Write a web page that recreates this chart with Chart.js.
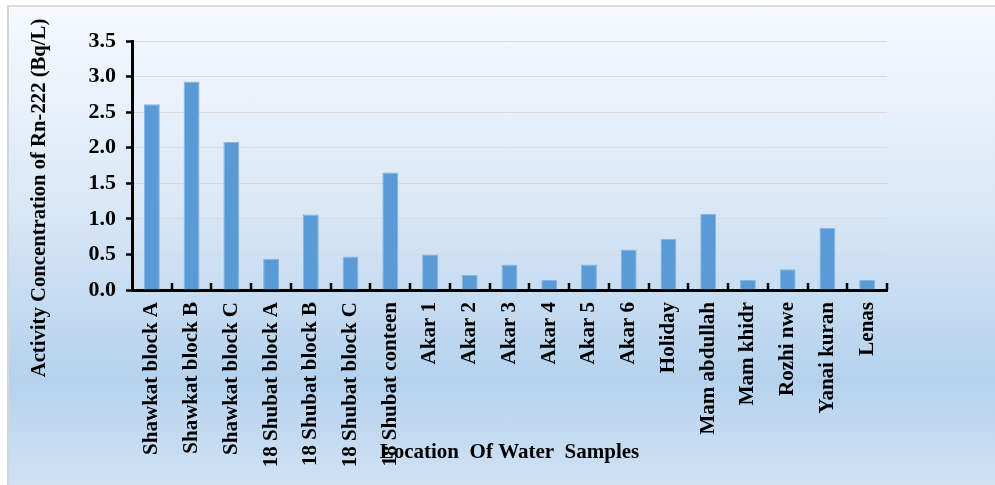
<!DOCTYPE html>
<html>
<head>
<meta charset="utf-8">
<script src="https://cdn.jsdelivr.net/npm/chart.js@4.4.1/dist/chart.umd.min.js"></script>
<style>
  html, body { margin:0; padding:0; background:#fff; }
  body { width:995px; height:485px; position:relative; overflow:hidden; }
  #frame {
    position:absolute; left:7px; top:5px; right:0; bottom:0;
    border-left:2px solid #d6d6d6; border-top:2px solid #dcdcdc;
    background:linear-gradient(to bottom, #f6faff 0%, #dbe8f6 40%, #b5d2ed 78%, #d0e2f4 100%);
  }
  #wrap { position:absolute; left:0; top:0; width:995px; height:485px; }
</style>
</head>
<body>
<div id="frame"></div>
<div id="wrap"><canvas id="rnChart" width="995" height="485"></canvas></div>
<script>
const locations = ['Shawkat block A','Shawkat block B','Shawkat block C','18 Shubat block A','18 Shubat block B',
  '18 Shubat block C','18 Shubat conteen','Akar 1','Akar 2','Akar 3','Akar 4','Akar 5','Akar 6','Holiday',
  'Mam abdullah','Mam khidr','Rozhi nwe','Yanai kuran','Lenas'];
const rnConc = [2.61, 2.93, 2.08, 0.44, 1.06, 0.47, 1.65, 0.50, 0.21, 0.36, 0.14, 0.36, 0.57, 0.72,
  1.07, 0.14, 0.29, 0.87, 0.14];
const yTitle = 'Activity Concentration of Rn-222 (Bq/L)';
const xTitle = 'Location  Of Water  Samples';

const serif = '"Liberation Serif", "Times New Roman", serif';

// small tick marks between categories, pointing up into the plot
const innerTicks = {
  id: 'innerTicks',
  afterDraw(chart) {
    const x = chart.scales.x, c = chart.ctx;
    const w = (x.right - x.left) / locations.length;
    c.save();
    c.strokeStyle = '#000';
    c.lineWidth = 2.5;
    for (let k = 1; k <= locations.length; k++) {
      const px = Math.round(x.left + k * w);
      c.beginPath();
      c.moveTo(px, x.top);
      c.lineTo(px, x.top - 7);
      c.stroke();
    }
    c.restore();
  }
};

// y title sits lower than the axis centre in the original
const sideTitle = {
  id: 'sideTitle',
  afterDraw(chart) {
    const c = chart.ctx;
    c.save();
    c.translate(40, 198);
    c.rotate(-Math.PI / 2);
    c.font = 'bold 20.7px ' + serif;
    c.fillStyle = '#000';
    c.textAlign = 'center';
    c.textBaseline = 'middle';
    c.fillText(yTitle, 0, 0);
    c.restore();
  }
};

new Chart(document.getElementById('rnChart'), {
  type: 'bar',
  data: {
    labels: locations,
    datasets: [{
      data: rnConc,
      backgroundColor: '#5b9bd5',
      borderColor: '#86b4e0',
      borderWidth: 1,
      barPercentage: 0.4,
      categoryPercentage: 1.0
    }]
  },
  options: {
    responsive: false,
    animation: false,
    layout: { padding: { left: 0, right: 108, top: 41, bottom: 0 } },
    plugins: { legend: { display: false }, tooltip: { enabled: false } },
    scales: {
      x: {
        afterFit(s) { s.height = 195; },
        grid: { drawOnChartArea: false, drawTicks: false },
        border: { color: '#000', width: 3 },
        ticks: {
          minRotation: 90, maxRotation: 90, autoSkip: false, padding: 12,
          color: '#000', font: { family: serif, size: 21, weight: 'bold' }
        },
        title: {
          display: true, text: xTitle, color: '#000',
          font: { family: serif, size: 21, weight: 'bold' },
          padding: { top: 0, bottom: 20 }
        }
      },
      y: {
        min: 0, max: 3.5,
        afterFit(s) { s.width = 132; },
        grid: { color: '#d9d9d9', lineWidth: 1, tickColor: '#000', tickWidth: 2.5, tickLength: 6 },
        border: { color: '#000', width: 3 },
        ticks: {
          stepSize: 0.5, padding: 10, color: '#000',
          font: { family: serif, size: 22, weight: 'bold' },
          callback: v => v.toFixed(1)
        }
      }
    }
  },
  plugins: [innerTicks, sideTitle]
});
</script>
</body>
</html>
